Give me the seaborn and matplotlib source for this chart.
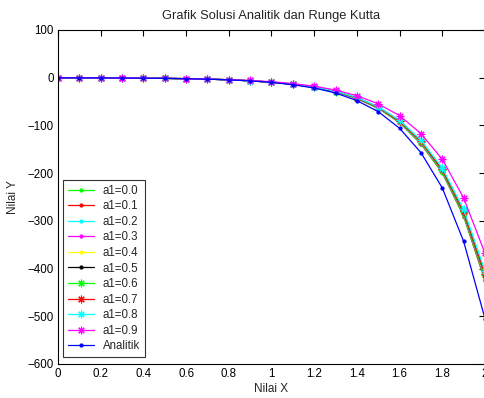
import matplotlib
matplotlib.use("Agg")
import matplotlib.pyplot as plt
import seaborn as sns
import pandas as pd

x_vals = [0.0, 0.1, 0.2, 0.3, 0.4, 0.5, 0.6, 0.7, 0.8, 0.9, 1.0,
          1.1, 1.2, 1.3, 1.4, 1.5, 1.6, 1.7, 1.8, 1.9, 2.0]

y_a00 = [0, -0.3, -0.4, -0.6, -0.9, -1.4, -2.0, -3.0, -4.4, -6.5, -9.5,
         -13.9, -20.4, -29.9, -43.7, -64.2, -94.3, -139, -200, -291, -426]
y_a01 = [0, -0.3, -0.4, -0.6, -0.9, -1.4, -2.0, -3.0, -4.4, -6.5, -9.5,
         -13.9, -20.3, -29.7, -43.4, -63.7, -93.6, -138, -198, -289, -424]
y_a02 = [0, -0.3, -0.4, -0.6, -0.9, -1.4, -2.0, -3.0, -4.4, -6.5, -9.4,
         -13.8, -20.2, -29.5, -43.1, -63.3, -93.0, -137, -197, -287, -421]
y_a03 = [0, -0.3, -0.4, -0.6, -0.9, -1.4, -2.0, -3.0, -4.4, -6.4, -9.4,
         -13.7, -20.1, -29.4, -42.9, -62.9, -92.5, -136, -196, -285, -419]
y_a04 = [0, -0.3, -0.4, -0.6, -0.9, -1.4, -2.0, -3.0, -4.3, -6.4, -9.3,
         -13.6, -20.0, -29.2, -42.6, -62.5, -92.0, -135, -195, -284, -417]
y_a05 = [0, -0.3, -0.4, -0.6, -0.9, -1.4, -2.0, -3.0, -4.3, -6.4, -9.3,
         -13.6, -19.9, -29.1, -42.4, -62.2, -91.5, -134, -194, -283, -415]
y_a06 = [0, -0.3, -0.4, -0.6, -0.9, -1.4, -2.0, -2.9, -4.3, -6.3, -9.2,
         -13.5, -19.8, -28.9, -42.2, -61.9, -91.0, -134, -193, -282, -413]
y_a07 = [0, -0.3, -0.4, -0.6, -0.9, -1.4, -2.0, -2.9, -4.3, -6.3, -9.2,
         -13.4, -19.7, -28.8, -42.0, -61.6, -90.5, -133, -192, -280, -411]
y_a08 = [0, -0.3, -0.4, -0.6, -0.9, -1.4, -2.0, -2.9, -4.2, -6.2, -9.0,
         -13.2, -19.4, -28.4, -41.4, -60.8, -89.2, -131, -189, -276, -405]
y_a09 = [0, -0.3, -0.4, -0.6, -0.9, -1.3, -1.9, -2.8, -4.0, -5.8, -8.4,
         -12.2, -17.8, -25.8, -37.6, -54.8, -79.5, -117, -171, -252, -368]
y_analitik = [-0.2, -0.3, -0.4, -0.6, -1.0, -1.4, -2.1, -3.1, -4.5, -6.7, -9.9,
              -14.6, -21.6, -32.0, -48.0, -71.0, -106, -157, -231, -343, -505]

labels = ["a1=0.0", "a1=0.1", "a1=0.2", "a1=0.3", "a1=0.4", "a1=0.5",
          "a1=0.6", "a1=0.7", "a1=0.8", "a1=0.9", "Analitik"]
series = [y_a00, y_a01, y_a02, y_a03, y_a04, y_a05,
          y_a06, y_a07, y_a08, y_a09, y_analitik]
colors = ["#00ff00", "#ff0000", "#00ffff", "#ff00ff", "#ffff00", "#000000",
          "#00ff00", "#ff0000", "#00ffff", "#ff00ff", "#0000ff"]
star = (8, 2, 0)
markers = [".", ".", ".", ".", ".", ".", star, star, star, star, "."]

sns.set_style("white")
plt.rcParams["font.family"] = ["Liberation Sans", "DejaVu Sans"]
plt.rcParams["font.size"] = 8

fig = plt.figure(figsize=(4.85, 3.98), dpi=100)
ax = fig.add_axes([58 / 485, 1 - 364 / 398, 427 / 485, 334 / 398])

for lab, ys, col, mk in zip(labels, series, colors, markers):
    df = pd.DataFrame({"x": x_vals, "y": ys})
    sns.lineplot(data=df, x="x", y="y", ax=ax, color=col, marker=mk,
                 markersize=5.5 if mk == star else 4.5,
                 markeredgewidth=0.8, markeredgecolor=col, markerfacecolor=col,
                 linewidth=0.9, label=lab, estimator=None, sort=False)

ax.set_xlim(0, 2)
ax.set_ylim(-600, 100)
ax.set_xticks([0, 0.2, 0.4, 0.6, 0.8, 1.0, 1.2, 1.4, 1.6, 1.8, 2.0])
ax.set_xticklabels(["0", "0.2", "0.4", "0.6", "0.8", "1", "1.2", "1.4", "1.6", "1.8", "2"])
ax.set_yticks([100, 0, -100, -200, -300, -400, -500, -600])
ax.tick_params(direction="in", top=True, right=True, length=4, width=0.8,
               labelsize=8.3, colors="#000000", pad=3)
for sp in ax.spines.values():
    sp.set_color("#000000")
    sp.set_linewidth(0.8)
    sp.set_visible(True)

ax.set_title("Grafik Solusi Analitik dan Runge Kutta", fontsize=9.3, pad=8)
ax.set_xlabel("Nilai X", fontsize=8.5, labelpad=2)
ax.set_ylabel("Nilai Y", fontsize=8.5, labelpad=6)

leg = ax.legend(loc="lower left", bbox_to_anchor=(5 / 427, 7 / 334),
                borderaxespad=0, fontsize=8.3, frameon=True, fancybox=False,
                edgecolor="#000000", labelspacing=0.31, handlelength=2.3,
                handletextpad=0.75, borderpad=0.4)
leg.get_frame().set_linewidth(0.8)

fig.savefig("out.png", dpi=100, facecolor="white")
